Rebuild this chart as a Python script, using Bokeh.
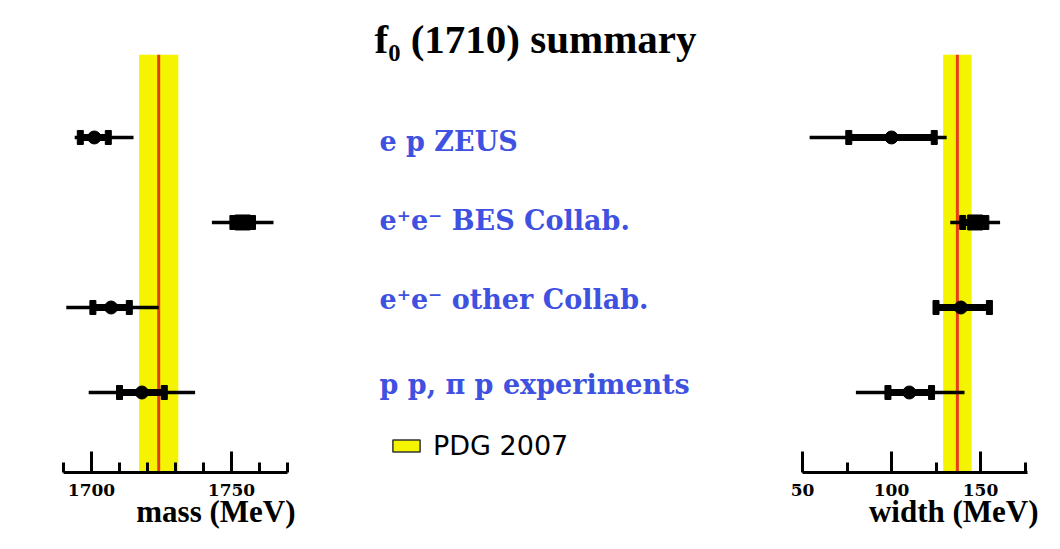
from bokeh.plotting import figure
from bokeh.models import Range1d, FixedTicker, BoxAnnotation, Span, Title, Legend, LegendItem
from bokeh.layouts import row
from bokeh.embed import file_html
from bokeh.resources import INLINE
from bokeh.core.properties import value

# ---------------- data ----------------
experiments = ["e p ZEUS", "e\u207ae\u207b BES Collab.", "e\u207ae\u207b other Collab.", "p p, \u03c0 p experiments"]
row_pos = [4, 3, 2, 1]
markers = ["circle", "square", "circle", "circle"]

mass_val = [1701, 1754, 1707, 1718]
mass_stat_lo = [1696, 1750.5, 1700.5, 1710]
mass_stat_hi = [1706, 1757.5, 1713.5, 1726]
mass_tot_lo = [1694, 1743, 1691, 1699]
mass_tot_hi = [1715, 1765, 1724, 1737]

width_val = [100, 147, 139, 110]
width_stat_lo = [76, 140, 125, 98]
width_stat_hi = [124, 153, 155, 122.5]
width_tot_lo = [54, 133, 125, 80]
width_tot_hi = [131, 161, 155, 141]

pdg_mass, pdg_mass_err = 1724, 7
pdg_width, pdg_width_err = 137, 8

mass_ticks = [1700, 1750]
mass_minor = [1690, 1710, 1720, 1730, 1740, 1760, 1770]
width_ticks = [50, 100, 150]
width_minor = [75, 125, 175]

title_text = "f\u2080 (1710) summary"
mass_label = "mass (MeV)"
width_label = "width (MeV)"
legend_label = "PDG 2007"

# ---------------- style / layout ----------------
TOP, FH, BOT = 54, 418, 69
YR = (0.059, 4.976)
YELLOW = "#f4f400"
RED = "#e63b1f"
BLUE = "#3f51e0"


def side_panel(xr, val, slo, shi, tlo, thi, pdg, err, ticks, minor, label,
               bl, fw, br, label_dx):
    p = figure(frame_width=fw, frame_height=FH, min_border_left=bl, min_border_right=br,
               min_border_top=TOP, min_border_bottom=BOT,
               x_range=Range1d(*xr), y_range=Range1d(*YR),
               tools="", toolbar_location=None, output_backend="svg",
               y_axis_location=None)
    p.outline_line_color = None
    p.grid.visible = False

    band = BoxAnnotation(left=pdg - err, right=pdg + err, fill_color=YELLOW, fill_alpha=1.0,
                         line_alpha=0, level="underlay")
    p.add_layout(band)
    p.add_layout(Span(location=pdg, dimension="height", line_color=RED, line_width=3,
                      level="underlay"))

    p.segment(x0=tlo, x1=thi, y0=row_pos, y1=row_pos, line_color="black", line_width=3.5)
    p.segment(x0=slo, x1=shi, y0=row_pos, y1=row_pos, line_color="black", line_width=7)
    p.rect(x=slo, y=row_pos, width=6, height=14, width_units="screen", height_units="screen",
           fill_color="black", line_color="black")
    p.rect(x=shi, y=row_pos, width=6, height=14, width_units="screen", height_units="screen",
           fill_color="black", line_color="black")
    sizes = [13 if m == "circle" else 15 for m in markers]
    p.scatter(x=val, y=row_pos, marker=markers, size=sizes, fill_color="black", line_color="black")

    ax = p.xaxis[0]
    ax.ticker = FixedTicker(ticks=ticks, minor_ticks=minor)
    ax.axis_line_width = 3
    ax.major_tick_line_width = 3
    ax.minor_tick_line_width = 3
    ax.major_tick_in = 21
    ax.major_tick_out = 0
    ax.minor_tick_in = 10
    ax.minor_tick_out = 0
    ax.major_label_text_font = "DejaVu Serif"
    ax.major_label_text_font_style = "bold"
    ax.major_label_text_font_size = "17px"
    ax.major_label_text_color = "black"
    ax.major_label_standoff = 11

    p.add_layout(Title(text=label, align="right", offset=-label_dx, vertical_align="top",
                       text_font="Liberation Serif", text_font_style="bold",
                       text_font_size="31px", text_color="black", standoff=-10), "below")
    return p


left = side_panel((1690, 1770), mass_val, mass_stat_lo, mass_stat_hi, mass_tot_lo, mass_tot_hi,
                  pdg_mass, pdg_mass_err, mass_ticks, mass_minor, mass_label,
                  63, 224, 43, 8)
right = side_panel((50, 176.4), width_val, width_stat_lo, width_stat_hi, width_tot_lo, width_tot_hi,
                   pdg_width, pdg_width_err, width_ticks, width_minor, width_label,
                   22, 225, 25, 11)

# middle panel: title, experiment labels, legend
MW = 450
mid = figure(frame_width=MW, frame_height=FH, x_range=Range1d(0, MW), y_range=Range1d(*YR),
             min_border_left=0, min_border_right=0, min_border_top=TOP, min_border_bottom=BOT,
             tools="", toolbar_location=None, output_backend="svg",
             x_axis_location=None, y_axis_location=None)
mid.outline_line_color = None
mid.grid.visible = False
mid.title = Title(text=title_text, align="left", offset=44, vertical_align="bottom",
                  standoff=-14, text_font="Liberation Serif", text_font_style="bold",
                  text_font_size="41px", text_color="black")

label_shift = [4, -2, -8, -8]
mid.text(x=[49] * len(experiments), y=row_pos, text=experiments, y_offset=label_shift,
         text_align="left", text_baseline="alphabetic", text_font=value("DejaVu Serif"),
         text_font_style="bold", text_font_size="27px", text_color=BLUE)

# legend swatch: the PDG band itself (lies outside this panel's x range, so only the legend shows it)
sw = mid.quad(left=[pdg_mass - pdg_mass_err], right=[pdg_mass + pdg_mass_err],
              top=[YR[1]], bottom=[YR[0]], fill_color=YELLOW, line_color="#333333",
              line_width=1.5)
leg = Legend(items=[LegendItem(label=legend_label, renderers=[sw])], location=(59, 11),
             border_line_color=None, background_fill_alpha=0, padding=0, margin=0,
             glyph_width=34, glyph_height=15, label_standoff=10,
             label_text_font="DejaVu Sans", label_text_font_size="27px",
             label_text_color="black")
mid.add_layout(leg)

layout = row(left, mid, right)
open("out.html", "w").write(file_html(layout, INLINE))
